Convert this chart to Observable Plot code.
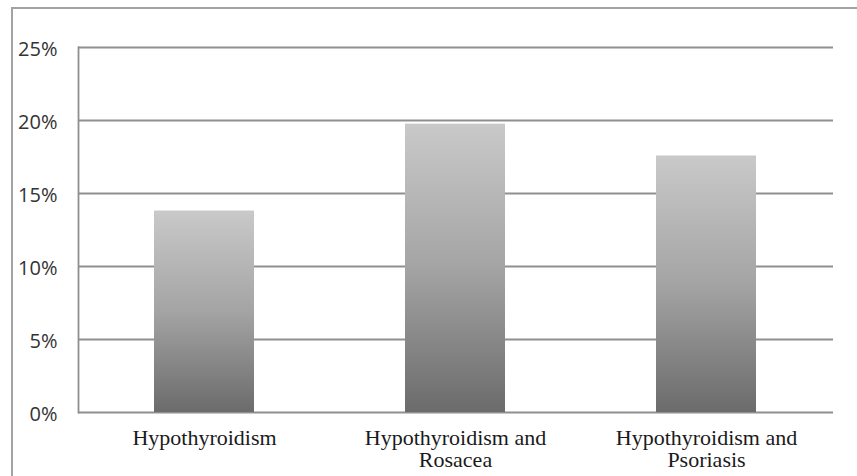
<!DOCTYPE html>
<html>
<head>
<meta charset="utf-8">
<script src="https://cdn.jsdelivr.net/npm/d3@7"></script>
<script src="https://cdn.jsdelivr.net/npm/@observablehq/plot@0.6"></script>
<style>
  html, body { margin: 0; padding: 0; background: #fff; overflow: hidden; }
  #wrap { position: relative; width: 857px; height: 476px; }
  #frame { position: absolute; left: 11px; top: 7px; width: 900px; height: 520px;
           border-left: 2px solid #a3a3a3; border-top: 2px solid #a3a3a3; pointer-events: none; }
  #chart svg { display: block; }
</style>
</head>
<body>
<div id="wrap"><div id="chart"></div><div id="frame"></div></div>
<script>
const categories = ["Hypothyroidism", "Hypothyroidism and\nRosacea", "Hypothyroidism and\nPsoriasis"];
const values = [0.138, 0.1975, 0.1757];
const yTicks = [0, 0.05, 0.10, 0.15, 0.20, 0.25];

const data = categories.map((c, i) => ({category: c, value: values[i]}));

const chart = Plot.plot({
  width: 857,
  height: 476,
  marginLeft: 78,
  marginRight: 24,
  marginTop: 47,
  marginBottom: 64,
  x: {domain: categories, paddingInner: 0.6, paddingOuter: 0.3, label: null},
  y: {domain: [0, 0.25], label: null},
  marks: [
    Plot.ruleY(yTicks, {stroke: "#8f8f8f", strokeWidth: 1.8, strokeOpacity: 1}),
    Plot.frame({anchor: "left", stroke: "#8f8f8f", strokeWidth: 1.8, strokeOpacity: 1}),
    Plot.barY(data, {x: "category", y: "value", fill: "url(#barGrad)"}),
    Plot.axisY({ticks: yTicks, tickFormat: d3.format(".0%"), tickSize: 0, tickPadding: 21, dy: 2,
                fontSize: 20, fontFamily: "'Open Sans', sans-serif", fill: "#333", label: null}),
    Plot.axisX({tickSize: 0, tickPadding: 16, fontSize: 22, lineHeight: 1.03,
                fontFamily: "'Liberation Serif', serif", fill: "#1a1a1a", label: null})
  ]
});

const svg = d3.select(chart);
const defs = svg.insert("defs", ":first-child");
const g = defs.append("linearGradient").attr("id", "barGrad")
  .attr("x1", 0).attr("y1", 0).attr("x2", 0).attr("y2", 1);
g.append("stop").attr("offset", "0%").attr("stop-color", "#c9c9c9");
g.append("stop").attr("offset", "50%").attr("stop-color", "#a4a4a4");
g.append("stop").attr("offset", "100%").attr("stop-color", "#6b6b6b");

document.getElementById("chart").appendChild(chart);
</script>
</body>
</html>
